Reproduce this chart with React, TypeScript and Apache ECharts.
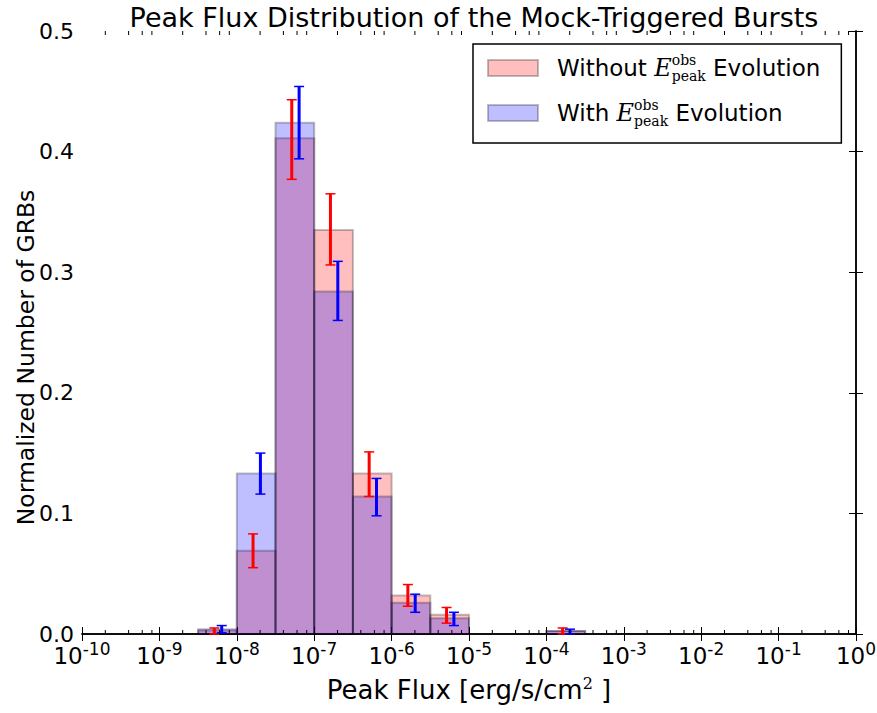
import React, { useEffect, useRef } from 'react';
import * as echarts from 'echarts';

const FONT = "'DejaVu Sans', sans-serif";
const SERIF = "'DejaVu Serif', serif";

// Histogram bins: left edges as log10(peak flux), width 0.5 dex
const binLeftExp = [-10, -9.5, -9, -8.5, -8, -7.5, -7, -6.5, -6, -5.5, -5, -4.5, -4, -3.5, -3, -2.5, -2, -1.5, -1, -0.5];
const binWidthDex = 0.5;

// Without E_peak^obs evolution (red)
const withoutVals = [0, 0, 0, 0.003, 0.069, 0.411, 0.335, 0.133, 0.032, 0.016, 0, 0, 0.0025, 0, 0, 0, 0, 0, 0, 0];
const withoutErrLo = [0, 0, 0, 0.0, 0.055, 0.377, 0.306, 0.114, 0.023, 0.009, 0, 0, 0.0, 0, 0, 0, 0, 0, 0, 0];
const withoutErrHi = [0, 0, 0, 0.005, 0.083, 0.443, 0.365, 0.151, 0.041, 0.022, 0, 0, 0.005, 0, 0, 0, 0, 0, 0, 0];

// With E_peak^obs evolution (blue)
const withVals = [0, 0, 0, 0.004, 0.133, 0.424, 0.284, 0.114, 0.026, 0.013, 0, 0, 0.0025, 0, 0, 0, 0, 0, 0, 0];
const withErrLo = [0, 0, 0, 0.001, 0.116, 0.394, 0.26, 0.098, 0.018, 0.007, 0, 0, 0.0, 0, 0, 0, 0, 0, 0, 0];
const withErrHi = [0, 0, 0, 0.007, 0.15, 0.454, 0.309, 0.129, 0.033, 0.018, 0, 0, 0.004, 0, 0, 0, 0, 0, 0, 0];

// error bar horizontal shift inside a bin (in dex)
const redShift = -0.04;
const blueShift = 0.055;

// x axis in log10 units (10^-10 .. 10^0)
const xMinExp = -10;
const xMaxExp = 0;
const xInterval = 1;
const yMin = 0;
const yMax = 0.5;
const yInterval = 0.1;
const minorMultipliers = [2, 4, 6, 8];
const minorDecades = [-10, -9, -8, -7, -6, -5, -4, -3, -2, -1];

const title = 'Peak Flux Distribution of the Mock-Triggered Bursts';
const yName = 'Normalized Number of GRBs';

function barData(vals: number[]) {
  return binLeftExp.map((e, i) => [e, e + binWidthDex, vals[i]]);
}
function errData(lo: number[], hi: number[], shift: number) {
  return binLeftExp.map((e, i) => [e + binWidthDex / 2 + shift, lo[i], hi[i]]);
}

function barRender(fill: string) {
  return (params: any, api: any) => {
    const x0 = api.value(0);
    const x1 = api.value(1);
    const y = api.value(2);
    if (!(y > 0)) return null;
    const p0 = api.coord([x0, y]);
    const p1 = api.coord([x1, 0]);
    return {
      type: 'rect',
      shape: { x: p0[0], y: p0[1], width: p1[0] - p0[0], height: p1[1] - p0[1] },
      style: { fill, stroke: 'rgba(0,0,0,0.25)', lineWidth: 2 },
    };
  };
}

function errRender(color: string) {
  return (params: any, api: any) => {
    const x = api.value(0);
    const lo = api.value(1);
    const hi = api.value(2);
    if (!(hi > 0)) return null;
    const pt = api.coord([x, hi]);
    const pb = api.coord([x, lo]);
    const hw = 5;
    return {
      type: 'group',
      children: [
        { type: 'line', shape: { x1: pt[0], y1: pt[1], x2: pb[0], y2: pb[1] }, style: { stroke: color, lineWidth: 3 } },
        { type: 'line', shape: { x1: pt[0] - hw, y1: pt[1], x2: pt[0] + hw, y2: pt[1] }, style: { stroke: color, lineWidth: 1.5 } },
        { type: 'line', shape: { x1: pb[0] - hw, y1: pb[1], x2: pb[0] + hw, y2: pb[1] }, style: { stroke: color, lineWidth: 1.5 } },
      ],
    };
  };
}

const minorTickData: number[][] = [];
minorDecades.forEach((d) => minorMultipliers.forEach((m) => minorTickData.push([d + Math.log10(m), 0])));

function minorRender(params: any, api: any) {
  const v = api.value(0);
  const pb = api.coord([v, yMin]);
  const pt = api.coord([v, yMax]);
  const len = 4;
  return {
    type: 'group',
    children: [
      { type: 'line', shape: { x1: pb[0], y1: pb[1], x2: pb[0], y2: pb[1] - len }, style: { stroke: '#000', lineWidth: 1 } },
      { type: 'line', shape: { x1: pt[0], y1: pt[1], x2: pt[0], y2: pt[1] + len }, style: { stroke: '#000', lineWidth: 1 } },
    ],
  };
}

const legendRich = {
  t: { fontFamily: FONT, fontSize: 23, color: '#000', lineHeight: 30 },
  e: { fontFamily: SERIF, fontStyle: 'italic', fontSize: 24, color: '#000', lineHeight: 30 },
  sup: { fontFamily: SERIF, fontSize: 14, color: '#000', lineHeight: 13, verticalAlign: 'top', width: 0 },
  sub: { fontFamily: SERIF, fontSize: 14, color: '#000', lineHeight: 13, verticalAlign: 'bottom' },
};

export default function App() {
  const ref = useRef<HTMLDivElement>(null);
  useEffect(() => {
    if (!ref.current) return;
    const chart = echarts.init(ref.current, null, { renderer: 'svg' });
    const xAxisCommon = {
      type: 'value',
      min: xMinExp,
      max: xMaxExp,
      interval: xInterval,
      splitLine: { show: false },
      axisLine: { lineStyle: { color: '#000', width: 1.5 } },
      axisTick: { inside: true, length: 7, lineStyle: { color: '#000', width: 1 } },
    };
    const yAxisCommon = {
      type: 'value',
      min: yMin,
      max: yMax,
      interval: yInterval,
      splitLine: { show: false },
      axisLine: { show: true, lineStyle: { color: '#000', width: 1.5 } },
      axisTick: { show: true, inside: true, length: 7, lineStyle: { color: '#000', width: 1 } },
    };
    chart.setOption({
      animation: false,
      backgroundColor: '#fff',
      title: {
        text: title,
        left: 469,
        top: -1,
        textAlign: 'center',
        textStyle: { fontFamily: FONT, fontSize: 27, fontWeight: 'normal', color: '#000' },
      },
      grid: { left: 82, top: 31, width: 774, height: 603, containLabel: false, outerBoundsMode: 'none' },
      legend: {
        orient: 'vertical',
        left: 473,
        top: 44,
        padding: [9, 21, 15, 14],
        itemWidth: 50,
        itemHeight: 16,
        itemGap: 15,
        borderColor: '#000',
        borderWidth: 1.5,
        borderRadius: 0,
        backgroundColor: '#fff',
        data: [
          { name: 'Without', icon: 'rect', itemStyle: { color: 'rgba(255,0,0,0.25)', borderColor: 'rgba(0,0,0,0.25)', borderWidth: 2 } },
          { name: 'With', icon: 'rect', itemStyle: { color: 'rgba(0,0,255,0.25)', borderColor: 'rgba(0,0,0,0.25)', borderWidth: 2 } },
        ],
        formatter: (name: string) => `{t|${name} }{e|E}{sup|obs}{sub|peak}{t| Evolution}`,
        textStyle: { padding: [0, 0, 0, 14], rich: legendRich },
      },
      xAxis: [
        {
          ...xAxisCommon,
          position: 'bottom',
          axisLabel: {
            margin: 6,
            formatter: (v: number) => `{b|10}{s|${Math.round(v)}}`,
            rich: {
              b: { fontFamily: FONT, fontSize: 23, color: '#000', lineHeight: 32 },
              s: { fontFamily: FONT, fontSize: 17, color: '#000', lineHeight: 16, verticalAlign: 'top' },
            },
          },
          name: '{n|Peak Flux [erg/s/cm}{s|2}{n| ]}',
          nameLocation: 'middle',
          nameGap: 41,
          nameMoveOverlap: false,
          nameTextStyle: {
            rich: {
              n: { fontFamily: FONT, fontSize: 26, color: '#000', lineHeight: 30 },
              s: { fontFamily: SERIF, fontSize: 16, color: '#000', lineHeight: 14, verticalAlign: 'top' },
            },
          },
        },
        { ...xAxisCommon, position: 'top', axisLabel: { show: false } },
      ],
      yAxis: [
        {
          ...yAxisCommon,
          position: 'left',
          axisLabel: {
            margin: 8,
            fontFamily: FONT,
            fontSize: 22,
            color: '#000',
            formatter: (v: number) => v.toFixed(1),
          },
          name: yName,
          nameLocation: 'middle',
          nameGap: 44,
          nameMoveOverlap: false,
          nameTextStyle: { fontFamily: FONT, fontSize: 23.5, color: '#000', padding: [0, 50, 0, 0] },
        },
        { ...yAxisCommon, position: 'right', axisLabel: { show: false } },
      ],
      series: [
        {
          name: 'Without',
          type: 'custom',
          coordinateSystem: 'cartesian2d',
          itemStyle: { color: 'rgba(255,0,0,0.25)' },
          encode: { x: [0, 1], y: 2 },
          data: barData(withoutVals),
          renderItem: barRender('rgba(255,0,0,0.25)'),
          z: 2,
        },
        {
          name: 'With',
          type: 'custom',
          coordinateSystem: 'cartesian2d',
          itemStyle: { color: 'rgba(0,0,255,0.25)' },
          encode: { x: [0, 1], y: 2 },
          data: barData(withVals),
          renderItem: barRender('rgba(0,0,255,0.25)'),
          z: 3,
        },
        {
          name: 'Without error',
          type: 'custom',
          coordinateSystem: 'cartesian2d',
          encode: { x: 0, y: [1, 2] },
          data: errData(withoutErrLo, withoutErrHi, redShift),
          renderItem: errRender('#ff0000'),
          z: 4,
        },
        {
          name: 'With error',
          type: 'custom',
          coordinateSystem: 'cartesian2d',
          encode: { x: 0, y: [1, 2] },
          data: errData(withErrLo, withErrHi, blueShift),
          renderItem: errRender('#0000ff'),
          z: 5,
        },
        {
          name: 'minor ticks',
          type: 'custom',
          coordinateSystem: 'cartesian2d',
          encode: { x: 0, y: 1 },
          data: minorTickData,
          renderItem: minorRender,
          silent: true,
          z: 6,
        },
      ],
    });
    return () => chart.dispose();
  }, []);
  return <div ref={ref} style={{ position: 'fixed', left: 0, top: 0, width: 877, height: 713, background: '#fff' }} />;
}
